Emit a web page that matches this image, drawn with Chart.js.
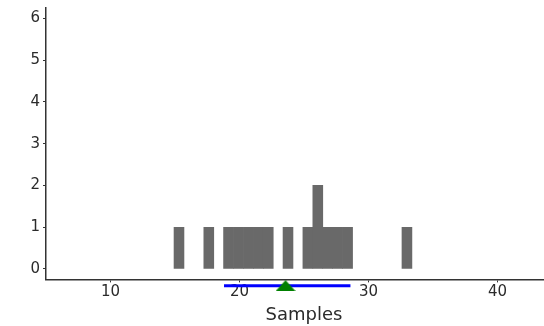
<!DOCTYPE html>
<html>
<head>
<meta charset="utf-8">
<script src="https://cdn.jsdelivr.net/npm/chart.js@4.4.1/dist/chart.umd.min.js"></script>
<style>
  html, body { margin: 0; padding: 0; background: #fff; overflow: hidden; }
  #wrap { width: 544px; height: 326px; overflow: hidden; }
  #hist-chart { display: block; width: 564px; height: 326px; }
</style>
</head>
<body>
<div id="wrap"><canvas id="hist-chart" width="564" height="326"></canvas></div>
<script>
// histogram bins (centres) and counts
const binCenters = [15.31, 17.62, 19.15, 19.92, 20.69, 21.46, 22.23, 23.76, 25.30, 26.07, 26.84, 27.61, 28.38, 32.98];
const binCounts  = [1, 1, 1, 1, 1, 1, 1, 1, 1, 2, 1, 1, 1, 1];

// mean and mean +/- sd, drawn under the axis
const meanValue = 23.57;
const sdRange = [18.8, 28.6];
const markerY = -0.4;

const xTicks = [10, 20, 30, 40];
const yTicks = [0, 1, 2, 3, 4, 5, 6];

const textColor = '#2b2b2b';
const axisColor = '#333';

// flat green triangle used as the mean marker
function makeTriangle() {
    const c = document.createElement('canvas');
    c.width = 20;
    c.height = 11;
    const g = c.getContext('2d');
    g.fillStyle = '#008000';
    g.beginPath();
    g.moveTo(10, 0);
    g.lineTo(20, 11);
    g.lineTo(0, 11);
    g.closePath();
    g.fill();
    return c;
}

const ctx = document.getElementById('hist-chart').getContext('2d');
const histChart = new Chart(ctx, {
    type: 'bar',
    data: {
        datasets: [
            {
                type: 'line',
                data: sdRange.map(x => ({ x: x, y: markerY })),
                borderColor: '#0000ff',
                borderWidth: 3,
                pointRadius: 0,
                clip: false,
                order: 1
            },
            {
                type: 'scatter',
                data: [{ x: meanValue, y: markerY }],
                pointStyle: makeTriangle(),
                pointRadius: 12,
                clip: false,
                order: 0
            },
            {
                type: 'bar',
                data: binCenters.map((x, i) => ({ x: x, y: binCounts[i] })),
                backgroundColor: '#696969',
                borderWidth: 0,
                categoryPercentage: 1,
                barPercentage: 1,
                order: 2
            }
        ]
    },
    options: {
        responsive: false,
        animation: false,
        layout: { autoPadding: false, padding: { top: 8, right: 2, left: 0, bottom: 0 } },
        plugins: {
            legend: { display: false },
            tooltip: { enabled: false }
        },
        scales: {
            x: {
                type: 'linear',
                min: 5,
                max: 45,
                offset: false,
                afterBuildTicks: axis => { axis.ticks = xTicks.map(v => ({ value: v })); },
                afterFit: axis => { axis.paddingLeft = 0; axis.paddingRight = 0; },
                grid: { drawOnChartArea: false, offset: false, tickLength: 3, color: axisColor },
                border: { color: axisColor, width: 1.5 },
                ticks: { color: textColor, font: { family: 'DejaVu Sans', size: 15 }, padding: 1, maxRotation: 0 },
                title: {
                    display: true,
                    text: 'Samples',
                    color: textColor,
                    font: { family: 'DejaVu Sans', size: 18 },
                    padding: { top: 2, bottom: 0 }
                }
            },
            y: {
                min: -0.25,
                max: 6.25,
                afterBuildTicks: axis => { axis.ticks = yTicks.map(v => ({ value: v })); },
                afterFit: axis => { axis.width = 46; axis.paddingTop = 0; axis.paddingBottom = 0; },
                grid: { drawOnChartArea: false, tickLength: 3, color: axisColor },
                border: { color: axisColor, width: 1.5 },
                ticks: { color: textColor, font: { family: 'DejaVu Sans', size: 15 }, padding: 3 }
            }
        }
    }
});
</script>
</body>
</html>
